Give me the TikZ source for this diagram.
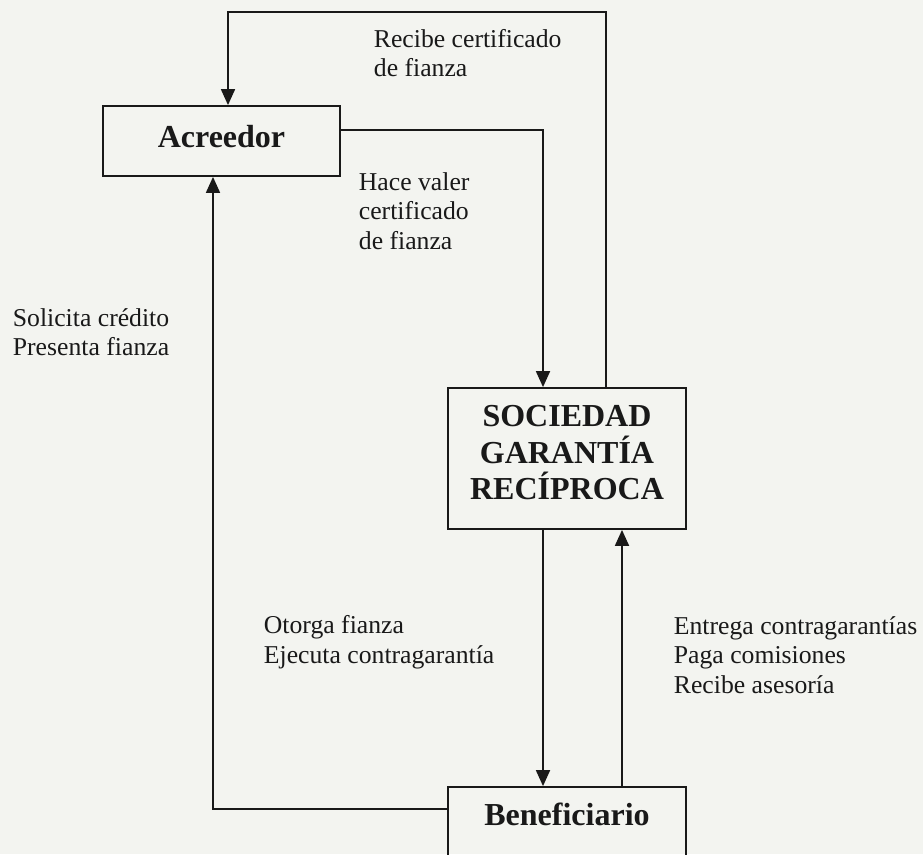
\documentclass[tikz,border=0pt]{standalone}
\usepackage{fontspec}
\setmainfont{Liberation Serif}
\usepackage{tikz}
\usetikzlibrary{positioning}
\usetikzlibrary{arrows.meta}
\definecolor{paper}{RGB}{243,244,240}
\definecolor{ink}{RGB}{25,25,25}

\begin{document}
\begin{tikzpicture}[x=1pt, y=-1pt, line width=1.8pt, ink,
    box/.style = {draw, rectangle, inner sep=0pt, minimum width=238, font=\fontsize{32}{36.5}\selectfont\bfseries},
    lbl/.style = {anchor=north west, inner sep=0pt, align=left, font=\fontsize{25.7}{29.5}\selectfont},
    flow/.style = {-{Triangle[length=16pt,width=14pt]}}]
            \fill[paper] (0,0) rectangle (923,854);
            \useasboundingbox (0,0) rectangle (923,854);
            \clip (0,0) rectangle (923,854);
            % Nodes
            \node[box, minimum width=237, minimum height=70, text depth=10pt] (acr) at (221.5,141) {Acreedor};
            \node[box, minimum height=141, align=center, text depth=12pt] (sgr) at (567,458.5) {SOCIEDAD\\GARANTÍA\\RECÍPROCA};
            \node[box, minimum height=70, text depth=16pt] (ben) at (567,822) {Beneficiario};
            % Labels
            \node[lbl] (l1) at (373,28.5) {Recibe certificado\\de fianza};
            \node[lbl] (l2) at (358,171.5) {Hace valer\\certificado\\de fianza};
            \node[lbl] (l3) at (12,307.5) {Solicita crédito\\Presenta fianza};
            \node[lbl] (l4) at (263,614.5) {Otorga fianza\\Ejecuta contragarantía};
            \node[lbl] (l5) at (673,615.5) {Entrega contragarantías\\Paga comisiones\\Recibe asesoría};
            % Edges
            \draw[flow] ([xshift=39pt]sgr.north) -- ++(0,-375) -| ([xshift=6.5pt]acr.north);
            \draw[flow] ([yshift=11pt]acr.east) -| ([xshift=-24pt]sgr.north);
            \draw[flow] ([yshift=13pt]ben.west) -| ([xshift=-8.5pt]acr.south);
            \draw[flow] ([xshift=-24pt]sgr.south) -- ([xshift=-24pt]sgr.south |- ben.north);
            \draw[flow] ([xshift=55pt]ben.north) -- ([xshift=55pt]ben.north |- sgr.south);
\end{tikzpicture}
\end{document}
